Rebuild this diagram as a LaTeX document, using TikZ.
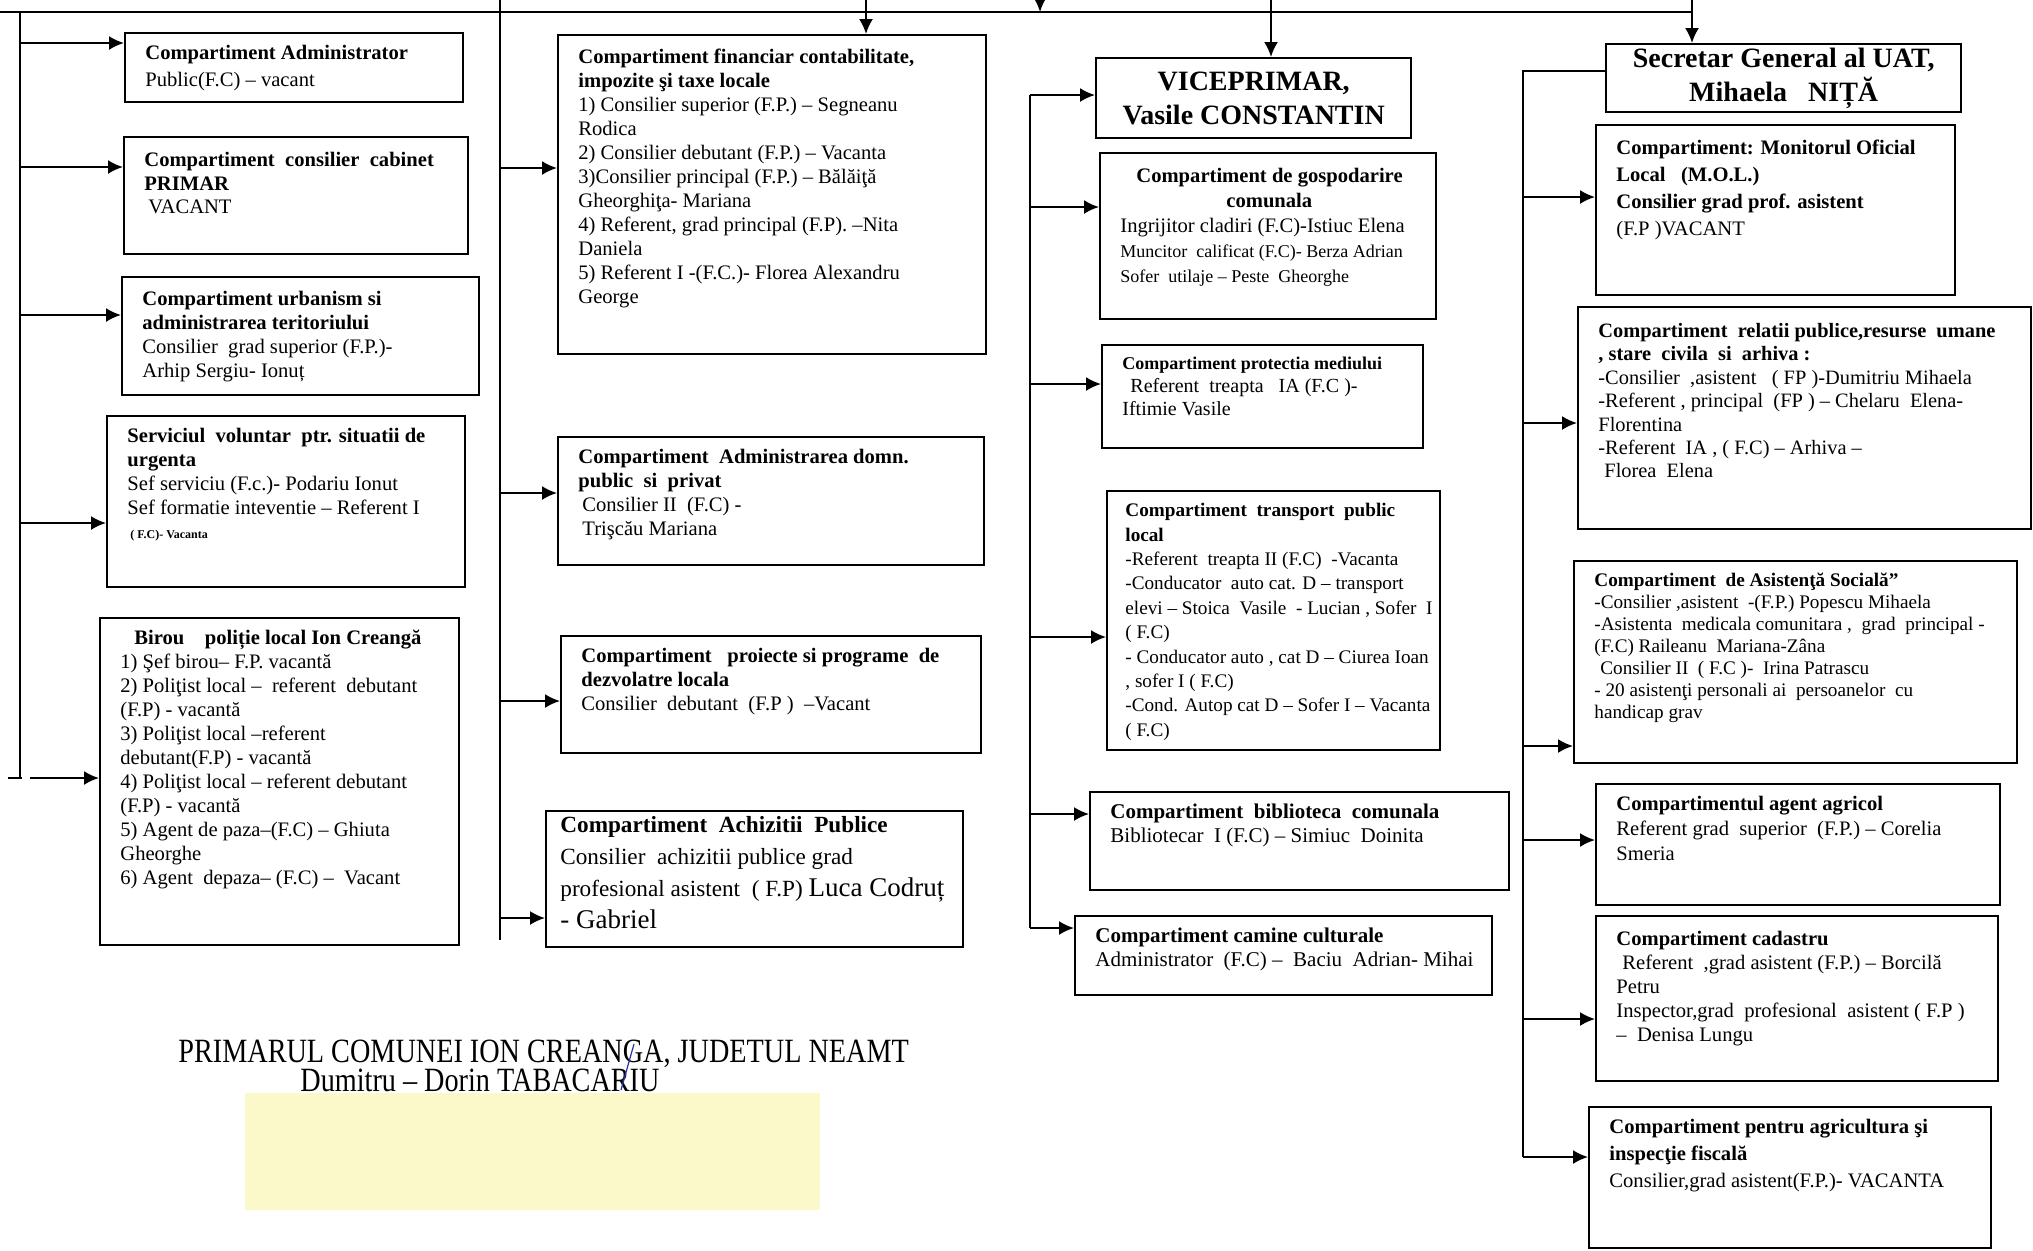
\documentclass[tikz,border=0pt]{standalone}
\usepackage{fontspec}
\setmainfont{Liberation Serif}
\newfontfamily\narrowserif[FakeStretch=0.83]{Liberation Serif}
\usetikzlibrary{arrows.meta}
\definecolor{notepaper}{RGB}{251,248,201}
\definecolor{penblue}{RGB}{40,50,160}

\begin{document}
\begin{tikzpicture}[
    x=0.5pt, y=-0.5pt,
    dept/.style={draw, line width=1.2pt, anchor=north west, inner sep=0pt},
    depttext/.style={anchor=north west, inner xsep=10.5pt, inner ysep=6.5pt, align=left, font=\fontsize{10.3}{12}\selectfont},
    chief/.style={draw, line width=1.2pt, anchor=north west, inner sep=0pt, align=center, font=\fontsize{14}{17}\selectfont\bfseries},
    wire/.style={line width=1pt},
    feed/.style={wire, -{Latex[length=7.5pt,width=7pt]}}
]
    \useasboundingbox[fill=white] (0,0) rectangle (2033,1250);

    % column 1 - under the primar
    \node[dept, minimum width=169pt, minimum height=34.5pt] (adm) at (124,32) {};
    \node[depttext, font=\fontsize{10.3}{13.5}\selectfont] (admtxt) at (adm.north west) {\textbf{Compartiment Administrator}\\Public(F.C) – vacant};
    \node[dept, minimum width=172pt, minimum height=58.5pt] (cab) at (123,136) {};
    \node[depttext, inner ysep=8pt, font=\fontsize{10.3}{11.7}\selectfont] (cabtxt) at (cab.north west) {\textbf{Compartiment\ \ consilier\ \ cabinet}\\\textbf{PRIMAR}\\\hspace*{2pt}VACANT};
    \node[dept, minimum width=178.5pt, minimum height=59pt] (urb) at (121,276) {};
    \node[depttext, inner ysep=7.5pt] (urbtxt) at (urb.north west) {\textbf{Compartiment urbanism si}\\\textbf{administrarea teritoriului}\\Consilier\ \ grad superior (F.P.)-\\Arhip Sergiu- Ionuț};
    \node[dept, minimum width=179pt, minimum height=85.5pt] (svsu) at (106,415) {};
    \node[depttext] (svsutxt) at (svsu.north west) {\textbf{Serviciul\ \ voluntar\ \ ptr. situatii de}\\\textbf{urgenta}\\Sef serviciu (F.c.)- Podariu Ionut\\Sef formatie inteventie – Referent I\\{\fontsize{6}{8}\selectfont\bfseries\ ( F.C)- Vacanta}};
    \node[dept, minimum width=179.5pt, minimum height=163.5pt] (pol) at (99,617) {};
    \node[depttext] (poltxt) at (pol.north west) {\hspace*{7pt}\textbf{Birou\ \ \ \ poliție local Ion Creangă}\\1) Şef birou– F.P. vacantă\\2) Poliţist local –\ \ referent\ \ debutant\\(F.P) - vacantă\\3) Poliţist local –referent\\debutant(F.P) - vacantă\\4) Poliţist local – referent debutant\\(F.P) - vacantă\\5) Agent de paza–(F.C) – Ghiuta\\Gheorghe\\6) Agent\ \ depaza– (F.C) –\ \ Vacant};

    % column 2
    \node[dept, minimum width=214pt, minimum height=159.5pt] (fin) at (557,34) {};
    \node[depttext, inner ysep=7.5pt] (fintxt) at (fin.north west) {\textbf{Compartiment financiar contabilitate,}\\\textbf{impozite şi taxe locale}\\1) Consilier superior (F.P.) – Segneanu\\Rodica\\2) Consilier debutant (F.P.) – Vacanta\\3)Consilier principal (F.P.) – Bălăiţă\\Gheorghiţa- Mariana\\4) Referent, grad principal (F.P). –Nita\\Daniela\\5) Referent I -(F.C.)- Florea Alexandru\\George};
    \node[dept, minimum width=213pt, minimum height=64pt] (dom) at (557,436) {};
    \node[depttext] (domtxt) at (dom.north west) {\textbf{Compartiment\ \ Administrarea domn.}\\\textbf{public\ \ si\ \ privat}\\\hspace*{2pt}Consilier II\ \ (F.C) -\\\hspace*{2pt}Trişcău Mariana};
    \node[dept, minimum width=210pt, minimum height=58.5pt] (proi) at (560,635) {};
    \node[depttext] (proitxt) at (proi.north west) {\textbf{Compartiment\ \ \ proiecte si programe\ \ de}\\\textbf{dezvolatre locala}\\Consilier\ \ debutant\ \ (F.P )\ \ –Vacant};
    \node[dept, minimum width=208.5pt, minimum height=68pt] (achiz) at (545,810) {};
    \node[depttext, inner xsep=7.5pt, inner ysep=3pt, font=\fontsize{11.6}{16}\selectfont] (achiztxt) at (achiz.north west) {\textbf{Compartiment\ \ Achizitii\ \ Publice}\\Consilier\ \ achizitii publice grad\\profesional asistent\ \ ( F.P) {\fontsize{13.5}{16}\selectfont Luca Codruț}\\{\fontsize{13.5}{16}\selectfont - Gabriel}};

    % column 3 - viceprimar
    \node[chief, minimum width=157.5pt, minimum height=40pt] (vice) at (1095,57) {VICEPRIMAR,\\Vasile CONSTANTIN};
    \node[dept, minimum width=168pt, minimum height=83pt] (gosp) at (1099,152) {};
    \node[depttext, inner ysep=8pt, font=\fontsize{10.3}{12.5}\selectfont] (gosptxt) at (gosp.north west) {\hspace*{8pt}\textbf{Compartiment de gospodarire}\\\hspace*{53pt}\textbf{comunala}\\Ingrijitor cladiri (F.C)-Istiuc Elena\\{\fontsize{9}{12.5}\selectfont Muncitor\ \ calificat (F.C)- Berza Adrian}\\{\fontsize{9}{12.5}\selectfont Sofer\ \ utilaje – Peste\ \ Gheorghe}};
    \node[dept, minimum width=160.5pt, minimum height=51.5pt] (prot) at (1101,344) {};
    \node[depttext, font=\fontsize{10}{11.5}\selectfont] (prottxt) at (prot.north west) {{\fontsize{9}{11.5}\selectfont\bfseries Compartiment protectia mediului}\\\hspace*{4pt}Referent\ \ treapta\ \ \ IA (F.C )-\\Iftimie Vasile};
    \node[dept, minimum width=166.5pt, minimum height=129.5pt] (transp) at (1106,490) {};
    \node[depttext, inner xsep=9.5pt, font=\fontsize{9.6}{12.2}\selectfont] (transptxt) at (transp.north west) {\textbf{Compartiment\ \ transport\ \ public}\\\textbf{local}\\-Referent\ \ treapta II (F.C)\ \ -Vacanta\\-Conducator\ \ auto cat. D – transport\\elevi – Stoica\ \ Vasile\ \ - Lucian , Sofer\ \ I\\( F.C)\\- Conducator auto , cat D – Ciurea Ioan\\, sofer I ( F.C)\\-Cond. Autop cat D – Sofer I – Vacanta\\( F.C)};
    \node[dept, minimum width=209.5pt, minimum height=49pt] (bibl) at (1089,791) {};
    \node[depttext, font=\fontsize{10.5}{12}\selectfont] (bibltxt) at (bibl.north west) {\textbf{Compartiment\ \ biblioteca\ \ comunala}\\Bibliotecar\ \ I (F.C) – Simiuc\ \ Doinita};
    \node[dept, minimum width=208.5pt, minimum height=39.5pt] (camin) at (1074,915) {};
    \node[depttext, font=\fontsize{10.5}{12}\selectfont] (camintxt) at (camin.north west) {\textbf{Compartiment camine culturale}\\Administrator\ \ (F.C) –\ \ Baciu\ \ Adrian- Mihai};

    % column 4 - secretar general
    \node[chief, minimum width=177.5pt, minimum height=34pt] (secr) at (1605,43) {Secretar General al UAT,\\Mihaela\ \ \ NIȚĂ};
    \node[dept, minimum width=179.5pt, minimum height=85pt] (mol) at (1595,124) {};
    \node[depttext, inner ysep=8pt, font=\fontsize{10.3}{13.5}\selectfont] (moltxt) at (mol.north west) {\textbf{Compartiment: Monitorul Oficial}\\\textbf{Local\ \ \ (M.O.L.)}\\\textbf{Consilier grad prof. asistent}\\(F.P )VACANT};
    \node[dept, minimum width=226.5pt, minimum height=111pt] (rel) at (1577,306) {};
    \node[depttext, inner ysep=8.5pt, font=\fontsize{10.2}{11.7}\selectfont] (reltxt) at (rel.north west) {\textbf{Compartiment\ \ relatii publice,resurse\ \ umane}\\\textbf{, stare\ \ civila\ \ si\ \ arhiva :}\\-Consilier\ \ ,asistent\ \ \ ( FP )-Dumitriu Mihaela\\-Referent , principal\ \ (FP ) – Chelaru\ \ Elena-\\Florentina\\-Referent\ \ IA , ( F.C) – Arhiva –\\\hspace*{3pt}Florea\ \ Elena};
    \node[dept, minimum width=221.5pt, minimum height=101pt] (asist) at (1573,560) {};
    \node[depttext, font=\fontsize{9.6}{11}\selectfont] (asisttxt) at (asist.north west) {\textbf{Compartiment\ \ de Asistenţă Socială”}\\-Consilier ,asistent\ \ -(F.P.) Popescu Mihaela\\-Asistenta\ \ medicala comunitara ,\ \ grad\ \ principal -\\(F.C) Raileanu\ \ Mariana-Zâna\\\hspace*{3pt}Consilier II\ \ ( F.C )-\ \ Irina Patrascu\\- 20 asistenţi personali ai\ \ persoanelor\ \ cu\\handicap grav};
    \node[dept, minimum width=202pt, minimum height=60.5pt] (agent) at (1595,783) {};
    \node[depttext, font=\fontsize{10.3}{12.5}\selectfont] (agenttxt) at (agent.north west) {\textbf{Compartimentul agent agricol}\\Referent grad\ \ superior\ \ (F.P.) – Corelia\\Smeria};
    \node[dept, minimum width=201pt, minimum height=82.5pt] (cad) at (1595,915) {};
    \node[depttext, inner ysep=8pt] (cadtxt) at (cad.north west) {\textbf{Compartiment cadastru}\\\hspace*{3pt}Referent\ \ ,grad asistent (F.P.) – Borcilă\\Petru\\Inspector,grad\ \ profesional\ \ asistent ( F.P )\\–\ \ Denisa Lungu};
    \node[dept, minimum width=201pt, minimum height=70.5pt] (agric) at (1588,1106) {};
    \node[depttext, font=\fontsize{10.3}{13.5}\selectfont] (agrictxt) at (agric.north west) {\textbf{Compartiment pentru agricultura şi}\\\textbf{inspecţie fiscală}\\Consilier,grad asistent(F.P.)- VACANTA};

    % top bus and feeds from above
    \coordinate (busW) at (0,12);
    \coordinate (busE) at (1692,12);
    \draw[wire] (busW) -- (busE);
    \coordinate (primarin) at (1040,0);
    \draw[feed] (primarin) -- (primarin |- busW);
    \coordinate (finin) at (866,0);
    \draw[feed] (finin) -- (finin |- fin.north);
    \coordinate (vicein) at (1271,0);
    \draw[feed] (vicein) -- (vicein |- vice.north);
    \coordinate (secrin) at (1692,0);
    \draw[feed] (secrin) -- (secrin |- secr.north);

    % column 1 links
    \coordinate (bus1) at (20,12);
    \coordinate (bus1end) at (20,778);
    \draw[wire] (bus1) -- (bus1end);
    \draw[feed] (bus1 |- 0,43) -- (adm.west |- 0,43);
    \draw[feed] (bus1 |- 0,167) -- (cab.west |- 0,167);
    \draw[feed] (bus1 |- 0,315) -- (urb.west |- 0,315);
    \draw[feed] (bus1 |- 0,523) -- (svsu.west |- 0,523);
    \draw[wire] ([xshift=-6pt]bus1end) -- ([xshift=1pt]bus1end);
    \draw[feed] ([xshift=5pt]bus1end) -- (bus1end -| pol.west);

    % column 2 links
    \coordinate (bus2) at (500,0);
    \coordinate (bus2end) at (500,940);
    \draw[wire] (bus2) -- (bus2end);
    \draw[feed] (bus2 |- 0,168) -- (fin.west |- 0,168);
    \draw[feed] (bus2 |- 0,493) -- (dom.west |- 0,493);
    \draw[feed] (bus2 |- 0,701) -- (proi.west |- 0,701);
    \draw[feed] (bus2 |- 0,918) -- (achiz.west |- 0,918);

    % column 3 links
    \coordinate (bus3) at (1030,95);
    \coordinate (bus3end) at (1030,928);
    \draw[wire] (bus3) -- (bus3end);
    \draw[feed] (bus3) -- (bus3 -| vice.west);
    \draw[feed] (bus3 |- 0,207) -- (gosp.west |- 0,207);
    \draw[feed] (bus3 |- 0,384) -- (prot.west |- 0,384);
    \draw[feed] (bus3 |- 0,637) -- (transp.west |- 0,637);
    \draw[feed] (bus3 |- 0,814) -- (bibl.west |- 0,814);
    \draw[feed] (bus3end) -- (bus3end -| camin.west);

    % column 4 links
    \coordinate (bus4) at (1523,71);
    \coordinate (bus4end) at (1523,1157);
    \draw[wire] (bus4 -| secr.west) -- (bus4) -- (bus4end);
    \draw[feed] (bus4 |- 0,197) -- (mol.west |- 0,197);
    \draw[feed] (bus4 |- 0,423) -- (rel.west |- 0,423);
    \draw[feed] (bus4 |- 0,746) -- (asist.west |- 0,746);
    \draw[feed] (bus4 |- 0,840) -- (agent.west |- 0,840);
    \draw[feed] (bus4 |- 0,1019) -- (cad.west |- 0,1019);
    \draw[feed] (bus4end) -- (bus4end -| agric.west);

    % signature block
    \node[anchor=base west, inner sep=0pt, text depth=0pt, font=\narrowserif\fontsize{17}{20}\selectfont] (mayor) at (178,1062) {PRIMARUL COMUNEI ION CREANGA, JUDETUL NEAMT};
    \node[anchor=base west, inner sep=0pt, text height=11pt, font=\narrowserif\fontsize{17}{20}\selectfont] (mayorname) at (300,1091) {Dumitru – Dorin TABACARIU};
    \fill[notepaper] (245,1093) rectangle (820,1210);
    \draw[penblue, line width=0.6pt] (634,1044) -- (621,1090);
\end{tikzpicture}
\end{document}
